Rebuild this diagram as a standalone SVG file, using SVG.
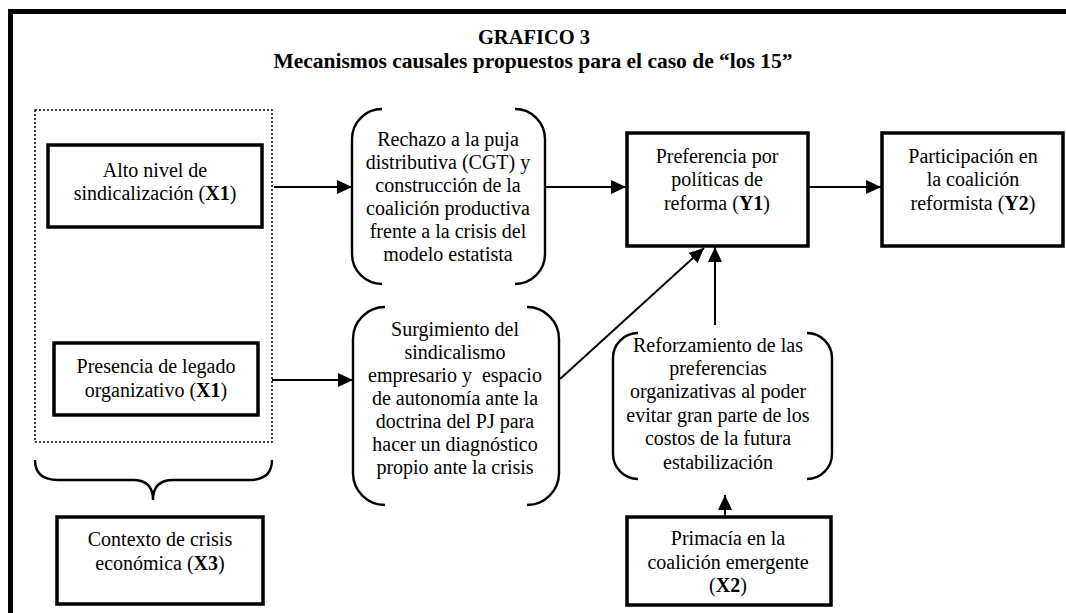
<svg xmlns="http://www.w3.org/2000/svg" width="1066" height="613" viewBox="0 0 1066 613">
<defs>
<marker id="ah" markerUnits="userSpaceOnUse" markerWidth="16" markerHeight="14" refX="15" refY="7" orient="auto">
<path d="M0,0 L15,7 L0,14 Z" fill="#000"/>
</marker>
<style>
text{font-family:"Liberation Serif","Times New Roman",serif;font-size:20px;fill:#000;text-anchor:middle}
.t{font-weight:bold}
.box{fill:#fff;stroke:#000;stroke-width:3.5}
.br{fill:none;stroke:#000;stroke-width:2.4}
.ln{fill:none;stroke:#000;stroke-width:2}
</style>
</defs>
<rect width="1066" height="613" fill="#fff"/>
<g id="frame">
<line x1="8" y1="11.5" x2="1066" y2="11.5" stroke="#000" stroke-width="5"/>
<line x1="10.5" y1="9" x2="10.5" y2="613" stroke="#000" stroke-width="5"/>
</g>
<g id="title">
<text class="t" x="534" y="44" style="font-size:20.5px">GRAFICO 3</text>
<text class="t" x="533" y="68" style="font-size:21.5px">Mecanismos causales propuestos para el caso de “los 15”</text>
</g>
<g id="group-x1">
<rect x="35" y="110" width="237" height="332" fill="none" stroke="#000" stroke-width="1.5" stroke-dasharray="2,2"/>
</g>
<g id="n-alto">
<rect class="box" x="48" y="145" width="214" height="82"/>
<text x="155" y="177">Alto nivel de</text>
<text x="155" y="200">sindicalización (<tspan font-weight="bold">X1</tspan>)</text>
</g>
<g id="n-presencia">
<rect class="box" x="54" y="343" width="204" height="72"/>
<text x="156" y="373">Presencia de legado</text>
<text x="156" y="397">organizativo (<tspan font-weight="bold">X1</tspan>)</text>
</g>
<g id="brace">
<path class="br" d="M35,460 Q35,480 58,480 L133,480 Q153,480 153,500 Q153,480 173,480 L249,480 Q272,480 272,460"/>
</g>
<g id="n-contexto">
<rect class="box" x="57" y="517" width="206" height="87"/>
<text x="160" y="546">Contexto de crisis</text>
<text x="160" y="570">económica (<tspan font-weight="bold">X3</tspan>)</text>
</g>
<g id="n-rechazo">
<path class="br" d="M382,109 A30,30 0 0 0 352,139 L352,254 A30,30 0 0 0 382,284 M515,109 A30,30 0 0 1 545,139 L545,254 A30,30 0 0 1 515,284"/>
<text x="448" y="146">Rechazo a la puja</text>
<text x="448" y="169">distributiva (CGT) y</text>
<text x="448" y="192">construcción de la</text>
<text x="448" y="215">coalición productiva</text>
<text x="448" y="238">frente a la crisis del</text>
<text x="448" y="261">modelo estatista</text>
</g>
<g id="n-surgimiento">
<path class="br" d="M385,307 A32,32 0 0 0 353,339 L353,473 A32,32 0 0 0 385,505 M527,307 A32,32 0 0 1 559,339 L559,473 A32,32 0 0 1 527,505"/>
<text x="455" y="336">Surgimiento del</text>
<text x="455" y="359">sindicalismo</text>
<text x="455" y="382" xml:space="preserve">empresario y  espacio</text>
<text x="455" y="405">de autonomía ante la</text>
<text x="455" y="428">doctrina del PJ para</text>
<text x="455" y="451">hacer un diagnóstico</text>
<text x="455" y="474">propio ante la crisis</text>
</g>
<g id="n-y1">
<rect class="box" x="627" y="133" width="181" height="113"/>
<text x="717" y="163">Preferencia por</text>
<text x="717" y="186">políticas de</text>
<text x="717" y="210">reforma (<tspan font-weight="bold">Y1</tspan>)</text>
</g>
<g id="n-y2">
<rect class="box" x="882" y="133" width="181" height="113"/>
<text x="973" y="163">Participación en</text>
<text x="973" y="186">la coalición</text>
<text x="973" y="210">reformista (<tspan font-weight="bold">Y2</tspan>)</text>
</g>
<g id="n-reforzamiento">
<path class="br" d="M638,333 A25,25 0 0 0 613,358 L613,454 A25,25 0 0 0 638,479 M807,333 A25,25 0 0 1 832,358 L832,454 A25,25 0 0 1 807,479"/>
<text x="718" y="352">Reforzamiento de las</text>
<text x="718" y="375">preferencias</text>
<text x="718" y="398">organizativas al poder</text>
<text x="718" y="422">evitar gran parte de los</text>
<text x="718" y="445">costos de la futura</text>
<text x="718" y="469">estabilización</text>
</g>
<g id="n-primacia">
<rect class="box" x="627" y="517" width="204" height="88"/>
<text x="728" y="545">Primacía en la</text>
<text x="728" y="569">coalición emergente</text>
<text x="728" y="592">(<tspan font-weight="bold">X2</tspan>)</text>
</g>
<g id="connectors">
<line class="ln" x1="274" y1="187" x2="352" y2="187" marker-end="url(#ah)"/>
<line class="ln" x1="272" y1="380" x2="353" y2="380" marker-end="url(#ah)"/>
<line class="ln" x1="545" y1="187" x2="626" y2="187" marker-end="url(#ah)"/>
<line class="ln" x1="808" y1="187" x2="881" y2="187" marker-end="url(#ah)"/>
<line class="ln" x1="560" y1="379" x2="704" y2="248" marker-end="url(#ah)"/>
<line class="ln" x1="715" y1="325" x2="715" y2="247" marker-end="url(#ah)"/>
<line class="ln" x1="725" y1="517" x2="725" y2="495" marker-end="url(#ah)"/>
</g>
</svg>
